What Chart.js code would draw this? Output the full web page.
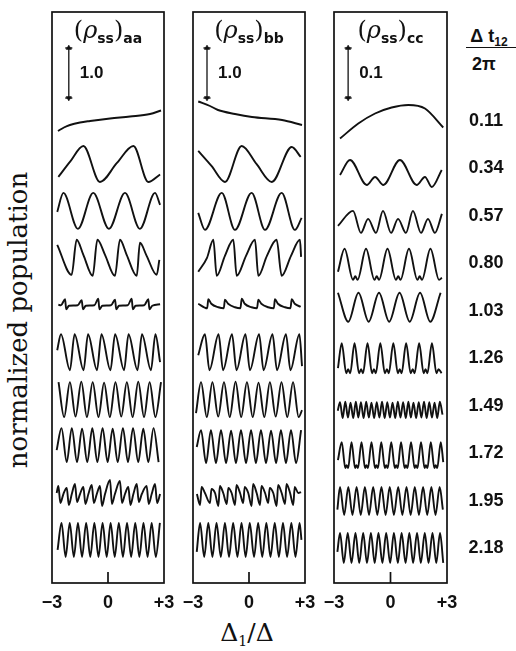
<!DOCTYPE html>
<html>
<head>
<meta charset="utf-8">
<script src="https://cdn.jsdelivr.net/npm/chart.js@4.4.1/dist/chart.umd.min.js"></script>
<style>
  html, body { margin: 0; padding: 0; background: #fff; }
  #fig { position: relative; width: 516px; height: 651px; overflow: hidden; color: #111; }
  #fig canvas { position: absolute; top: 0; }
  .ttl { position: absolute; top: 18px; transform: translateX(-50%); font-family: "DejaVu Serif"; font-size: 24px; line-height: 1; white-space: nowrap; }
  .ttl sub { font-family: "DejaVu Sans"; font-weight: bold; font-size: 14px; vertical-align: -5px; }
  .ttl i { font-style: italic; }
  .dl { position: absolute; left: 486px; transform: translate(-50%, -50%); font: bold 18px "Liberation Sans"; white-space: nowrap; }
  .hdr { position: absolute; transform: translateX(-50%); font: bold 18px "Liberation Sans"; line-height: 1; white-space: nowrap; }
  .hdr sub { font-size: 12px; vertical-align: -4px; }
  .rule { position: absolute; left: 466px; top: 47px; width: 50px; border-top: 1.5px solid #111; }
  .xt { position: absolute; left: 247px; top: 633px; transform: translate(-50%, -50%); font-family: "DejaVu Serif"; font-size: 25px; white-space: nowrap; }
  .xt sub { font-size: 14px; vertical-align: -5px; }
  .yt { position: absolute; left: 18px; top: 320px; transform: translate(-50%, -50%) rotate(-90deg); font-family: "DejaVu Serif"; font-size: 26px; white-space: nowrap; }
</style>
</head>
<body>
<div id="fig">
  <div class="yt">normalized population</div>
  <div class="xt">Δ<sub>1</sub>/Δ</div>
  <div class="hdr" style="left:489px;top:27px">Δ t<sub>12</sub></div>
  <div class="rule"></div>
  <div class="hdr" style="left:484px;top:55px">2π</div>
</div>
<script>
// delay Δt12/2π for each row, top to bottom
const delayLabels = ['0.11', '0.34', '0.57', '0.80', '1.03', '1.26', '1.49', '1.72', '1.95', '2.18'];
const xTicks = [-3, 0, 3];
const xTickLabels = ['\u22123', '0', '+3'];
const barValues = [1.0, 1.0, 0.1];
const panelSubs = ['aa', 'bb', 'cc'];

// each trace: x0,y0, x1,y1, ...  (x = Δ1/Δ, y = population change from the row's baseline)
const rhoAA = [
  [-2.68,-0.22, -2.36,-0.15, -2.04,-0.10, -1.50,-0.05, -0.96,-0.02, 0.11,0.03, 1.18,0.07, 2.25,0.12, 2.84,0.19],
  [-2.66,-0.19, -2.04,0.11, -1.32,0.43, -0.43,-0.29, 0.48,0.09, 1.36,0.43, 2.16,-0.29, 2.79,-0.14],
  [-2.72,0.06, -2.39,0.44, -1.61,-0.28, -0.79,0.44, 0.05,-0.28, 0.91,0.44, 1.71,-0.28, 2.52,0.44, 2.79,0.20],
  [-2.72,0.35, -1.95,-0.25, -1.68,0.45, -1.32,0.15, -0.82,-0.27, -0.57,0.45, -0.16,0.15, 0.37,-0.27, 0.64,0.45,
   1.00,0.15, 1.54,-0.27, 1.71,0.39, 2.07,0.13, 2.61,-0.25, 2.75,0.05],
  [-2.66,0.10, -2.52,0.09, -2.30,0.21, -2.24,0.01, -2.09,0.08, -1.62,0.09, -1.41,0.19, -1.34,0.01, -1.19,0.08,
   -0.73,0.09, -0.52,0.22, -0.46,0.01, -0.30,0.08, 0.16,0.09, 0.38,0.20, 0.44,0.01, 0.59,0.08, 1.06,0.09,
   1.27,0.22, 1.33,0.01, 1.48,0.08, 1.94,0.09, 2.16,0.21, 2.22,0.01, 2.37,0.08, 2.79,0.11],
  [-2.72,0.14, -2.52,0.46, -2.04,-0.26, -1.79,0.46, -1.31,-0.26, -1.07,0.46, -0.59,-0.26, -0.35,0.46, 0.13,-0.26,
   0.38,0.46, 0.86,-0.26, 1.10,0.46, 1.58,-0.26, 1.82,0.46, 2.30,-0.26, 2.54,0.46, 2.79,-0.10],
  [-2.65,0.45, -2.35,-0.25, -2.04,0.45, -1.74,-0.24, -1.43,0.46, -1.13,-0.25, -0.82,0.45, -0.51,-0.25, -0.21,0.44,
   0.10,-0.25, 0.40,0.45, 0.71,-0.24, 1.01,0.45, 1.32,-0.25, 1.62,0.46, 1.93,-0.25, 2.23,0.45, 2.54,-0.25, 2.84,0.45],
  [-2.75,0.04, -2.49,0.48, -2.21,-0.20, -1.94,0.48, -1.66,-0.20, -1.39,0.47, -1.11,-0.20, -0.84,0.48, -0.57,-0.20,
   -0.29,0.48, -0.02,-0.20, 0.25,0.47, 0.52,-0.20, 0.80,0.48, 1.07,-0.20, 1.34,0.48, 1.62,-0.20, 1.89,0.47,
   2.16,-0.20, 2.44,0.48, 2.71,-0.20],
  [-2.75,0.13, -2.66,0.27, -2.55,-0.07, -2.39,0.11, -2.21,0.23, -2.10,-0.11, -1.94,0.11, -1.77,0.31, -1.66,-0.05,
   -1.50,0.11, -1.32,0.25, -1.21,-0.09, -1.05,0.11, -0.87,0.29, -0.76,-0.07, -0.60,0.11, -0.43,0.27, -0.32,-0.13,
   -0.16,0.11, 0.11,0.39, 0.21,-0.09, 0.37,0.11, 0.64,0.37, 0.75,-0.07, 0.91,0.11, 1.09,0.25, 1.20,-0.11,
   1.36,0.11, 1.54,0.31, 1.65,-0.05, 1.81,0.11, 2.07,0.27, 2.18,-0.09, 2.34,0.11, 2.52,0.31, 2.63,-0.07, 2.79,0.11],
  [-2.70,-0.06, -2.49,0.48, -2.27,-0.20, -2.05,0.48, -1.83,-0.20, -1.61,0.48, -1.39,-0.20, -1.17,0.48, -0.95,-0.20,
   -0.73,0.48, -0.51,-0.20, -0.29,0.48, -0.07,-0.20, 0.14,0.48, 0.36,-0.20, 0.58,0.48, 0.80,-0.20, 1.02,0.48,
   1.24,-0.20, 1.46,0.48, 1.68,-0.20, 1.90,0.48, 2.12,-0.20, 2.34,0.48, 2.56,-0.20, 2.78,0.48]
];

const rhoBB = [
  [-2.72,0.37, -2.09,0.28, -1.66,0.20, -0.75,0.12, 0.16,0.06, 1.77,0.00, 2.84,-0.10],
  [-2.72,0.33, -2.01,0.03, -1.29,-0.29, -0.39,0.43, 0.40,0.07, 1.22,-0.29, 2.29,0.41, 2.77,0.21],
  [-2.72,0.04, -2.36,-0.30, -1.46,0.44, -0.75,-0.30, 0.14,0.44, 0.86,-0.30, 1.75,0.44, 2.46,-0.30, 2.82,-0.06],
  [-2.72,-0.19, -2.25,0.09, -1.91,0.45, -1.73,-0.27, -1.29,0.13, -0.84,0.45, -0.66,-0.27, -0.16,0.13, 0.32,0.45,
   0.50,-0.27, 0.96,0.13, 1.48,0.45, 1.75,-0.27, 2.25,0.13, 2.73,0.45, 2.79,0.11],
  [-2.72,0.12, -2.24,0.03, -2.18,0.21, -2.02,0.12, -1.64,0.05, -1.35,0.03, -1.29,0.20, -1.12,0.12, -0.75,0.05,
   -0.46,0.03, -0.39,0.22, -0.23,0.12, 0.14,0.05, 0.43,0.03, 0.50,0.20, 0.66,0.12, 1.03,0.05, 1.33,0.03,
   1.39,0.21, 1.55,0.12, 1.93,0.05, 2.22,0.03, 2.29,0.21, 2.45,0.12, 2.77,0.06],
  [-2.72,0.04, -2.36,0.46, -2.12,-0.26, -1.63,0.46, -1.39,-0.26, -0.91,0.46, -0.67,-0.26, -0.19,0.46, 0.05,-0.26,
   0.54,0.46, 0.78,-0.26, 1.26,0.46, 1.50,-0.26, 1.98,0.46, 2.22,-0.26, 2.70,0.46, 2.84,-0.18],
  [-2.84,-0.17, -2.57,0.45, -2.26,-0.25, -1.96,0.45, -1.65,-0.24, -1.34,0.45, -1.03,-0.25, -0.72,0.46, -0.42,-0.25,
   -0.11,0.45, 0.20,-0.25, 0.51,0.44, 0.82,-0.25, 1.12,0.45, 1.43,-0.24, 1.74,0.45, 2.05,-0.25, 2.36,0.45,
   2.66,-0.25, 2.84,-0.11],
  [-2.80,0.10, -2.57,0.44, -2.30,-0.22, -2.04,0.44, -1.77,-0.22, -1.50,0.44, -1.23,-0.22, -0.96,0.43, -0.70,-0.22,
   -0.43,0.44, -0.16,-0.22, 0.11,0.44, 0.37,-0.22, 0.64,0.44, 0.91,-0.22, 1.18,0.43, 1.45,-0.22, 1.71,0.44,
   1.98,-0.22, 2.25,0.44, 2.52,-0.22, 2.79,0.44],
  [-2.79,0.11, -2.62,-0.11, -2.54,0.25, -2.36,0.13, -2.09,-0.07, -2.01,0.21, -1.82,0.13, -1.64,-0.13, -1.56,0.27,
   -1.38,0.13, -1.19,-0.09, -1.11,0.23, -0.93,0.13, -0.75,-0.11, -0.67,0.29, -0.48,0.13, -0.31,-0.07, -0.23,0.25,
   -0.04,0.13, 0.14,-0.13, 0.22,0.31, 0.41,0.13, 0.59,-0.11, 0.67,0.27, 0.86,0.13, 1.03,-0.07, 1.11,0.23,
   1.30,0.13, 1.48,-0.13, 1.56,0.29, 1.75,0.13, 1.93,-0.09, 2.01,0.31, 2.20,0.13, 2.37,-0.11, 2.45,0.25,
   2.64,0.13, 2.79,0.15],
  [-2.80,-0.10, -2.62,0.48, -2.40,-0.20, -2.18,0.48, -1.96,-0.20, -1.74,0.48, -1.51,-0.20, -1.29,0.48, -1.07,-0.20,
   -0.85,0.48, -0.62,-0.20, -0.40,0.48, -0.18,-0.20, 0.04,0.48, 0.27,-0.20, 0.49,0.48, 0.71,-0.20, 0.93,0.48,
   1.15,-0.20, 1.38,0.48, 1.60,-0.20, 1.82,0.48, 2.04,-0.20, 2.27,0.48, 2.49,-0.20, 2.71,0.48, 2.81,0.14]
];

const rhoCC = [
  [-2.68,-0.037, -1.71,-0.007, -0.82,0.013, 0.06,0.025, 0.95,0.030, 1.83,0.023, 2.80,-0.015],
  [-2.68,-0.015, -2.15,0.015, -1.26,-0.035, -0.82,-0.019, -0.38,-0.035, 0.50,0.015, 1.39,-0.035, 1.83,-0.019,
   2.19,-0.039, 2.72,-0.005],
  [-2.79,-0.022, -1.99,0.008, -1.57,-0.036, -1.19,-0.008, -0.77,-0.036, -0.40,0.008, 0.03,-0.036, 0.40,-0.008,
   0.82,-0.036, 1.19,0.008, 1.62,-0.036, 1.99,-0.008, 2.36,-0.036, 2.73,0.002],
  [-2.79,-0.019, -2.44,0.027, -1.99,-0.035, -1.87,-0.028, -1.75,-0.035, -1.30,0.027, -0.85,-0.035, -0.73,-0.028,
   -0.61,-0.035, -0.16,0.027, 0.29,-0.035, 0.41,-0.028, 0.53,-0.035, 0.98,0.027, 1.43,-0.035, 1.55,-0.028,
   1.67,-0.035, 2.12,0.027, 2.58,-0.035, 2.73,-0.031],
  [-2.79,0.034, -2.24,-0.024, -1.70,0.034, -1.16,-0.024, -0.61,0.034, -0.07,-0.024, 0.48,0.034, 1.02,-0.024,
   1.57,0.034, 2.11,-0.024, 2.66,0.034],
  [-2.79,-0.022, -2.59,0.028, -2.35,-0.032, -2.25,-0.024, -2.14,-0.032, -1.91,0.028, -1.67,-0.032, -1.56,-0.024,
   -1.46,-0.032, -1.22,0.028, -0.98,-0.032, -0.88,-0.024, -0.78,-0.032, -0.54,0.028, -0.30,-0.032, -0.19,-0.024,
   -0.09,-0.032, 0.15,0.028, 0.39,-0.032, 0.49,-0.024, 0.59,-0.032, 0.83,0.028, 1.07,-0.032, 1.18,-0.024,
   1.28,-0.032, 1.52,0.028, 1.76,-0.032, 1.86,-0.024, 1.96,-0.032, 2.20,0.028, 2.44,-0.032, 2.55,-0.024, 2.71,-0.032],
  [-2.80,-0.012, -2.68,0.005, -2.54,-0.027, -2.40,0.006, -2.26,-0.026, -2.12,0.004, -1.98,-0.027, -1.84,0.006,
   -1.71,-0.026, -1.57,0.005, -1.43,-0.027, -1.29,0.006, -1.15,-0.026, -1.01,0.004, -0.87,-0.027, -0.73,0.005,
   -0.59,-0.026, -0.45,0.006, -0.31,-0.027, -0.17,0.005, -0.03,-0.026, 0.11,0.004, 0.25,-0.027, 0.39,0.006,
   0.53,-0.026, 0.67,0.005, 0.81,-0.027, 0.95,0.006, 1.08,-0.026, 1.22,0.004, 1.36,-0.027, 1.50,0.005,
   1.64,-0.026, 1.78,0.006, 1.92,-0.027, 2.06,0.005, 2.20,-0.026, 2.34,0.004, 2.48,-0.027, 2.62,0.006, 2.76,-0.020],
  [-2.79,-0.016, -2.59,0.020, -2.40,-0.032, -2.33,-0.026, -2.25,-0.032, -2.07,0.020, -1.88,-0.032, -1.81,-0.026,
   -1.73,-0.032, -1.54,0.020, -1.35,-0.032, -1.28,-0.026, -1.20,-0.032, -1.01,0.020, -0.82,-0.032, -0.75,-0.026,
   -0.67,-0.032, -0.49,0.020, -0.30,-0.032, -0.23,-0.026, -0.15,-0.032, 0.04,0.020, 0.23,-0.032, 0.30,-0.026,
   0.38,-0.032, 0.56,0.020, 0.75,-0.032, 0.82,-0.026, 0.90,-0.032, 1.09,0.020, 1.28,-0.032, 1.35,-0.026,
   1.43,-0.032, 1.62,0.020, 1.81,-0.032, 1.88,-0.026, 1.96,-0.032, 2.14,0.020, 2.33,-0.032, 2.40,-0.026,
   2.48,-0.032, 2.67,0.020, 2.80,-0.020],
  [-2.82,-0.020, -2.68,0.025, -2.46,-0.031, -2.24,0.025, -2.02,-0.031, -1.80,0.025, -1.58,-0.031, -1.36,0.025,
   -1.14,-0.031, -0.92,0.025, -0.70,-0.031, -0.48,0.025, -0.26,-0.031, -0.04,0.025, 0.18,-0.031, 0.41,0.025,
   0.63,-0.031, 0.85,0.025, 1.07,-0.031, 1.29,0.025, 1.51,-0.031, 1.73,0.025, 1.95,-0.031, 2.17,0.025,
   2.39,-0.031, 2.61,0.025, 2.78,-0.020],
  [-2.82,-0.010, -2.68,0.028, -2.48,-0.032, -2.27,0.028, -2.07,-0.032, -1.86,0.028, -1.66,-0.032, -1.45,0.028,
   -1.25,-0.032, -1.04,0.028, -0.84,-0.032, -0.64,0.028, -0.43,-0.032, -0.23,0.028, -0.02,-0.032, 0.18,0.028,
   0.39,-0.032, 0.59,0.028, 0.80,-0.032, 1.00,0.028, 1.20,-0.032, 1.41,0.028, 1.61,-0.032, 1.82,0.028,
   2.02,-0.032, 2.23,0.028, 2.43,-0.032, 2.63,0.028, 2.80,-0.032]
];

const INK = '#111';
const W = 516, H = 651;
const PAD = 30;          // canvas overhang for tick labels
const TOP = 12;          // frame top
const AXIS_H = 40;       // x axis band under the frame
const FRAME_BOTTOM = 583;
const Y_MAX = 11.42;     // frame height in scale-bar units
const ROW0 = 9.26, ROW_GAP = 0.9488;
const BAR_Y = 9.7;       // bottom of the scale bar
const panels = [
  { left: 52, right: 164, traces: rhoAA, barX: -2.1 },
  { left: 193, right: 305, traces: rhoBB, barX: -2.25 },
  { left: 334, right: 447, traces: rhoCC, barX: -2.25 },
];

const fig = document.getElementById('fig');

const framePlugin = {
  id: 'frame',
  afterDraw(chart, args, opts) {
    const { ctx, chartArea: a, scales } = chart;
    ctx.save();
    ctx.strokeStyle = INK;
    ctx.lineWidth = 1.7;
    ctx.strokeRect(a.left, a.top, a.right - a.left, a.bottom - a.top);
    const x0 = scales.x.getPixelForValue(0);
    ctx.beginPath();
    ctx.moveTo(x0, a.bottom);
    ctx.lineTo(x0, a.bottom - 11);
    ctx.stroke();
    ctx.fillStyle = INK;
    ctx.font = 'bold 17px "Liberation Sans"';
    ctx.textBaseline = 'middle';
    ctx.fillText(opts.label, scales.x.getPixelForValue(opts.barX) + 11, scales.y.getPixelForValue(BAR_Y + 0.5));
    ctx.restore();
  }
};

let firstChart = null;

panels.forEach((p, pi) => {
  const bar = barValues[pi];
  const cv = document.createElement('canvas');
  cv.width = p.right - p.left + 2 * PAD;
  cv.height = H;
  cv.style.left = (p.left - PAD) + 'px';
  fig.appendChild(cv);

  const datasets = p.traces.map((flat, i) => {
    const base = ROW0 - i * ROW_GAP;
    const pts = [];
    for (let k = 0; k < flat.length; k += 2) pts.push({ x: flat[k], y: base + flat[k + 1] / bar });
    return { data: pts, borderColor: INK, borderWidth: 1.9, pointRadius: 0, cubicInterpolationMode: 'monotone' };
  });

  const barPts = [{ x: p.barX, y: BAR_Y }, { x: p.barX, y: BAR_Y + bar / bar }];
  datasets.push({
    data: barPts, borderColor: INK, borderWidth: 1.3, tension: 0,
    pointStyle: 'triangle', pointRadius: 3, pointRotation: [180, 0],
    pointBackgroundColor: INK, pointBorderColor: INK, pointBorderWidth: 0.5
  });
  datasets.push({
    data: barPts, showLine: false, pointStyle: 'line', pointRadius: 3.5,
    pointBorderColor: INK, pointBorderWidth: 1.5
  });

  const chart = new Chart(cv, {
    type: 'line',
    data: { datasets },
    options: {
      responsive: false,
      animation: false,
      events: [],
      layout: { autoPadding: false, padding: { left: PAD, right: PAD, top: TOP, bottom: H - FRAME_BOTTOM - AXIS_H } },
      plugins: {
        legend: { display: false },
        tooltip: { enabled: false },
        frame: { label: bar.toFixed(1), barX: p.barX }
      },
      scales: {
        x: {
          type: 'linear', min: -3, max: 3,
          afterBuildTicks: (s) => { s.ticks = xTicks.map(v => ({ value: v })); },
          afterFit: (s) => { s.height = AXIS_H; },
          grid: { display: false, drawTicks: false },
          border: { display: false },
          ticks: {
            autoSkip: false, maxRotation: 0, padding: 9, color: INK,
            font: { family: 'Liberation Sans', size: 18, weight: 'bold' },
            callback: (v, i) => xTickLabels[i]
          }
        },
        y: { min: 0, max: Y_MAX, display: false }
      }
    },
    plugins: [framePlugin]
  });
  if (!firstChart) firstChart = chart;

  const t = document.createElement('div');
  t.className = 'ttl';
  t.style.left = ((p.left + p.right) / 2) + 'px';
  t.innerHTML = '(<i>ρ</i><sub>ss</sub>)<sub>' + panelSubs[pi] + '</sub>';
  fig.appendChild(t);
});

delayLabels.forEach((lab, i) => {
  const d = document.createElement('div');
  d.className = 'dl';
  d.style.top = firstChart.scales.y.getPixelForValue(ROW0 - i * ROW_GAP) + 'px';
  d.textContent = lab;
  fig.appendChild(d);
});
</script>
</body>
</html>
